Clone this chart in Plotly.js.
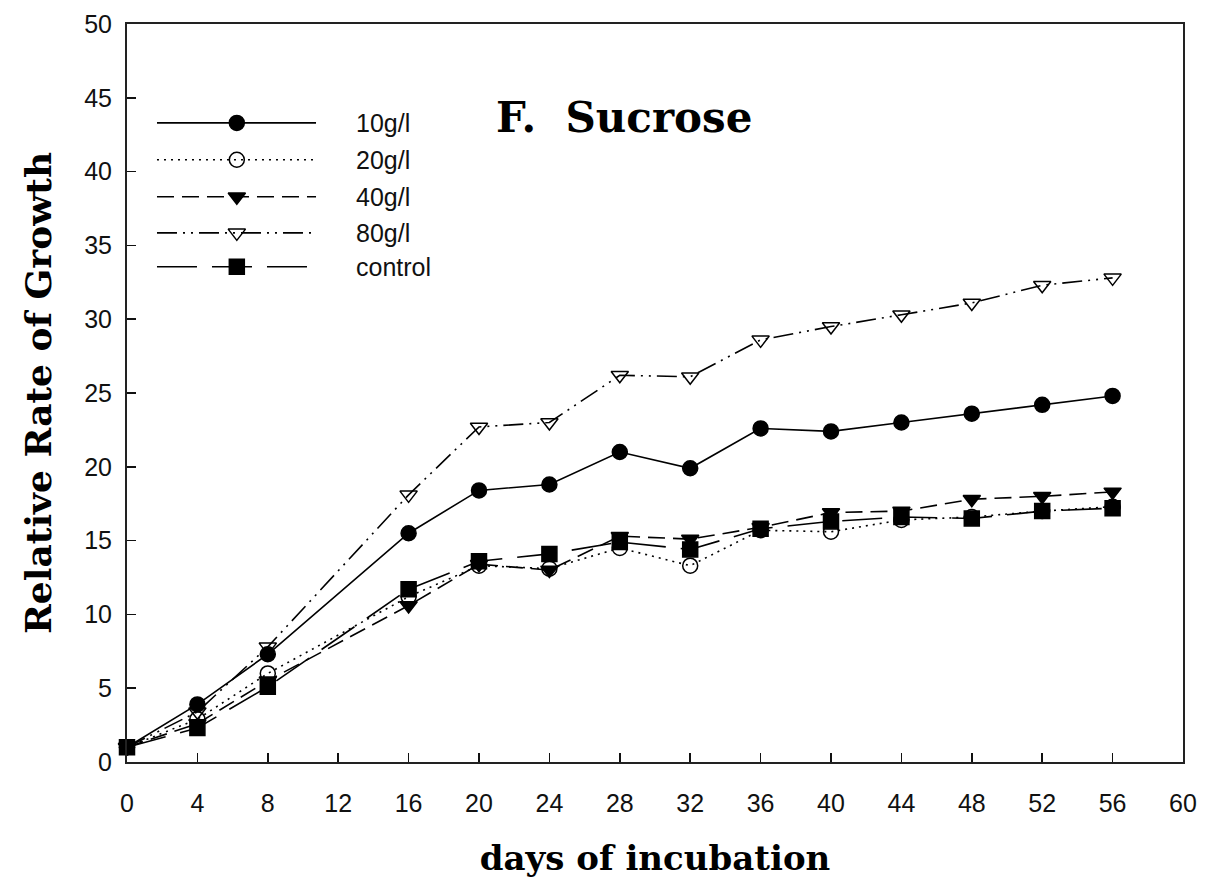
<!DOCTYPE html>
<html>
<head>
<meta charset="utf-8">
<script src="https://cdn.plot.ly/plotly-3.0.1.min.js"></script>
<style>
  html, body { margin: 0; padding: 0; background: #fff; }
  #chart { width: 1211px; height: 890px; }
</style>
</head>
<body>
<div id="chart"></div>
<script>
// Relative growth rate vs. days of incubation for sucrose concentrations
const days = [0, 4, 8, 16, 20, 24, 28, 32, 36, 40, 44, 48, 52, 56];
const sucrose10 = [1.0, 3.9, 7.3, 15.5, 18.4, 18.8, 21.0, 19.9, 22.6, 22.4, 23.0, 23.6, 24.2, 24.8];
const sucrose20 = [1.0, 2.9, 6.0, 11.2, 13.3, 13.1, 14.5, 13.3, 15.7, 15.6, 16.4, 16.6, 17.0, 17.3];
const sucrose40 = [1.0, 2.6, 5.5, 10.6, 13.4, 13.0, 15.3, 15.1, 15.9, 16.9, 17.0, 17.8, 18.0, 18.3];
const sucrose80 = [1.0, 3.4, 7.8, 18.1, 22.7, 23.0, 26.2, 26.1, 28.6, 29.5, 30.3, 31.1, 32.3, 32.8];
const control  = [1.0, 2.3, 5.1, 11.7, 13.6, 14.1, 14.9, 14.4, 15.8, 16.3, 16.6, 16.5, 17.0, 17.2];

const seriesNames = ['10g/l', '20g/l', '40g/l', '80g/l', 'control'];
const seriesValues = [sucrose10, sucrose20, sucrose40, sucrose80, control];

const xTicks = [0, 4, 8, 12, 16, 20, 24, 28, 32, 36, 40, 44, 48, 52, 56, 60];
const yTicks = [0, 5, 10, 15, 20, 25, 30, 35, 40, 45, 50];

// line / marker style per series
const styles = [
  { dash: 'solid', symbol: 'circle' },
  { dash: '2px,5px', symbol: 'circle-open' },
  { dash: '17px,8px', symbol: 'triangle-down' },
  { dash: '20px,6px,2px,6px,2px,6px', symbol: 'triangle-down-open' },
  { dash: '40px,15px', symbol: 'square' }
];

// key placement (fractions of the plotting area)
const keyLine = { x0: 0.0284, xm: 0.104, x1: 0.179, textX: 0.2145 };
const keyRows = [0.866, 0.816, 0.766, 0.717, 0.671];

const traces = [];
seriesValues.forEach((vals, i) => {
  const s = styles[i];
  traces.push({
    x: days, y: vals, name: seriesNames[i],
    type: 'scatter', mode: 'lines+markers', cliponaxis: false,
    line: { color: '#000', width: 1.6, dash: s.dash },
    marker: {
      symbol: s.symbol, size: 15, color: '#000',
      line: { color: '#000', width: 1.5 }
    },
    showlegend: false, hoverinfo: 'x+y+name'
  });
});

// key samples on an overlay axis spanning the plotting area
const annotations = [];
seriesNames.forEach((name, i) => {
  const s = styles[i];
  const yy = keyRows[i];
  traces.push({
    x: [keyLine.x0, keyLine.x1], y: [yy, yy],
    xaxis: 'x2', yaxis: 'y2', type: 'scatter', mode: 'lines',
    line: { color: '#000', width: 1.6, dash: s.dash },
    showlegend: false, hoverinfo: 'skip'
  });
  traces.push({
    x: [keyLine.xm], y: [yy],
    xaxis: 'x2', yaxis: 'y2', type: 'scatter', mode: 'markers',
    marker: { symbol: s.symbol, size: 15, color: '#000', line: { color: '#000', width: 1.5 } },
    showlegend: false, hoverinfo: 'skip'
  });
  annotations.push({
    xref: 'x2', yref: 'y2', x: keyLine.textX, y: yy,
    xanchor: 'left', yanchor: 'middle', showarrow: false,
    text: name,
    font: { family: 'Liberation Sans, Arial, sans-serif', size: 25, color: '#111' }
  });
});

annotations.push({
  xref: 'paper', yref: 'paper', x: 0.348, y: 0.873,
  xanchor: 'left', yanchor: 'middle', showarrow: false,
  text: 'F.&nbsp;&nbsp;Sucrose',
  font: { family: 'DejaVu Serif, serif', size: 42, color: '#000', weight: 'bold' }
});

const tickFont = { family: 'Liberation Sans, Arial, sans-serif', size: 25, color: '#111' };
const xTitleFont = { family: 'DejaVu Serif, serif', size: 34, color: '#000', weight: 'bold' };
const yTitleFont = { family: 'DejaVu Serif, serif', size: 36, color: '#000', weight: 'bold' };

const layout = {
  width: 1211, height: 890,
  margin: { l: 127, r: 28, t: 24, b: 128 },
  paper_bgcolor: '#fff', plot_bgcolor: '#fff',
  showlegend: false,
  xaxis: {
    range: [0, 60], tickvals: xTicks, ticktext: xTicks.map(String),
    ticks: 'inside', ticklen: 9, tickwidth: 1.5, tickcolor: '#111',
    showline: true, linecolor: '#222', linewidth: 2, mirror: true,
    showgrid: false, zeroline: false,
    tickfont: tickFont, ticklabelstandoff: 18,
    title: { text: 'days of incubation', font: xTitleFont, standoff: 30 }
  },
  yaxis: {
    range: [0, 50], tickvals: yTicks, ticktext: yTicks.map(String),
    ticks: 'inside', ticklen: 9, tickwidth: 1.5, tickcolor: '#111',
    showline: true, linecolor: '#222', linewidth: 2, mirror: true,
    showgrid: false, zeroline: false,
    tickfont: tickFont, ticklabelstandoff: 8,
    title: { text: 'Relative Rate of Growth', font: yTitleFont, standoff: 22 }
  },
  xaxis2: { overlaying: 'x', range: [0, 1], visible: false, fixedrange: true },
  yaxis2: { overlaying: 'y', range: [0, 1], visible: false, fixedrange: true },
  annotations: annotations
};

Plotly.newPlot('chart', traces, layout, { displayModeBar: false, staticPlot: true });
</script>
</body>
</html>
